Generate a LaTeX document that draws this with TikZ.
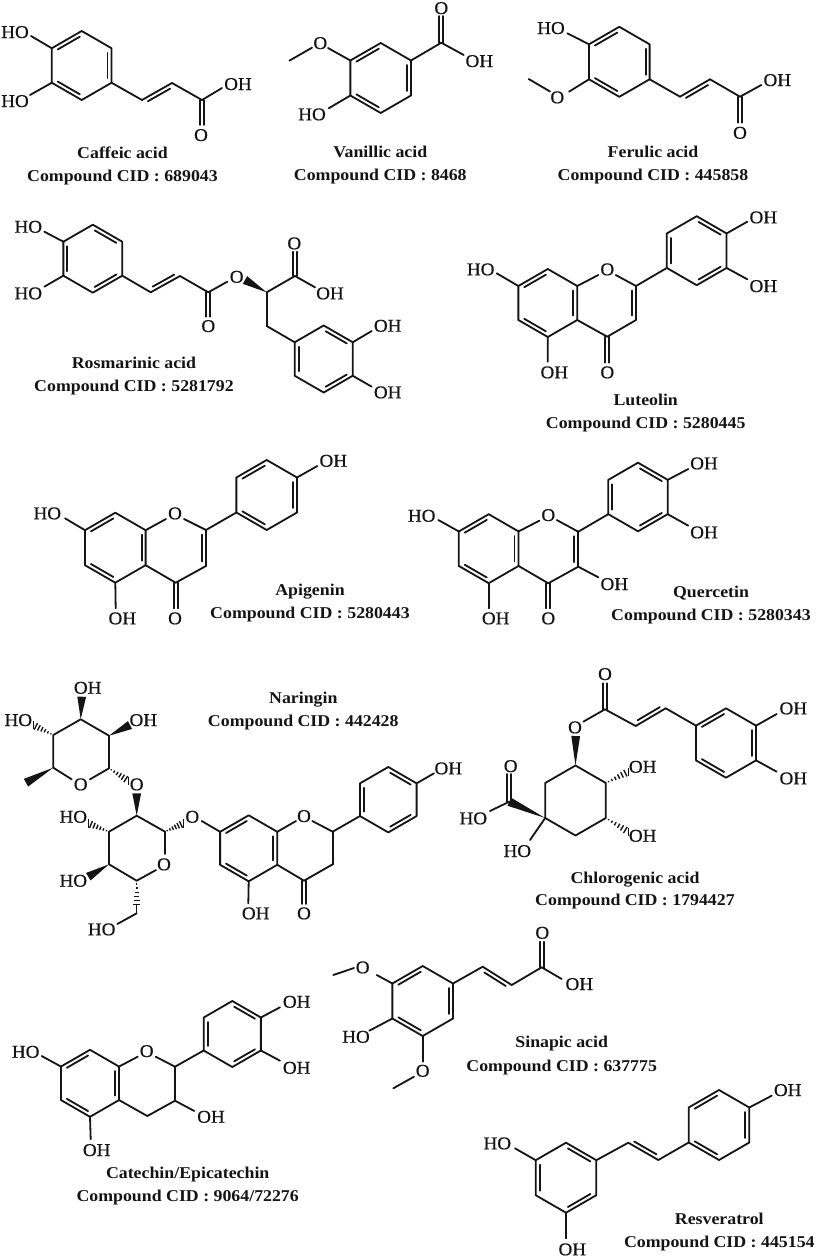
\documentclass[tikz,border=0pt]{standalone}
\usepackage{fontspec}
\setmainfont[FakeStretch=1.08]{Liberation Serif}
\newfontfamily\atomf[FakeStretch=1.06,FakeBold=0.5]{Liberation Serif}
\newfontfamily\capf[FakeStretch=1.08]{Liberation Serif Bold}
\usetikzlibrary{calc}
\tikzset{
  bond/.style={line width=1.8pt,line cap=round,line join=round,color=black!92},
  atomlabel/.style={inner sep=0pt,text height=12pt,text depth=0pt,font=\atomf\fontsize{18}{20}\selectfont,text=black!92},
  captext/.style={inner sep=0pt,text height=11.5pt,text depth=0pt,font=\capf\fontsize{16.5}{19}\selectfont,text=black!92}
}
\newcommand\pnt[3]{\coordinate (#1) at (#2,#3);}
\newcommand\lbl[4]{\node[atomlabel] (#1) at (#2,#3) {#4};}
\newcommand\bnd[2]{\draw[bond] (#1) -- (#2);}
\newcommand\dbnd[3]{\draw[bond,shorten <=4.5pt,shorten >=4.5pt] ($(#1)!#3!90:(#2)$) -- ($(#2)!#3!-90:(#1)$);}
\newcommand\vin[3]{\bnd{#1}{#2}\dbnd{#1}{#2}{#3}}
\newcommand\cdbnd[2]{\draw[bond] ($(#1)!2pt!90:(#2)$) -- ($(#2)!2pt!-90:(#1)$);\draw[bond] ($(#1)!-2pt!90:(#2)$) -- ($(#2)!-2pt!-90:(#1)$);}
\newcommand\wdg[2]{\fill[black!92] (#1) -- ($(#2)!4.4pt!90:(#1)$) -- ($(#2)!-4.4pt!90:(#1)$) -- cycle;}
\newcommand\hsh[2]{\foreach \tval/\hw in {0.12/0.6,0.27/1.2,0.42/1.8,0.57/2.4,0.72/3.0,0.87/3.6,1.0/4.2}{\draw[line width=1.4pt,black!92] ($(#1)!\tval!(#2)!\hw pt!90:(#2)$) -- ($(#1)!\tval!(#2)!-\hw pt!90:(#2)$);}}
% from, name, bond end x,y, label x,y, text
\newcommand\subst[7]{\coordinate (#2-e) at (#3,#4);\node[atomlabel] (#2) at (#5,#6) {#7};\draw[bond] (#1) -- (#2-e);}
\newcommand\hexa[4]{%
  \coordinate (#1-1) at ({#2},{#3-#4});
  \coordinate (#1-2) at ({#2+0.866*#4},{#3-0.5*#4});
  \coordinate (#1-3) at ({#2+0.866*#4},{#3+0.5*#4});
  \coordinate (#1-4) at ({#2},{#3+#4});
  \coordinate (#1-5) at ({#2-0.866*#4},{#3+0.5*#4});
  \coordinate (#1-6) at ({#2-0.866*#4},{#3-0.5*#4});
}
\newcommand\hexbonds[1]{\draw[bond] (#1-1)--(#1-2)--(#1-3)--(#1-4)--(#1-5)--(#1-6)--cycle;}
\newcommand\ringA[4]{\hexa{#1}{#2}{#3}{#4}\hexbonds{#1}\dbnd{#1-6}{#1-1}{-4pt}\dbnd{#1-2}{#1-3}{-4pt}\dbnd{#1-4}{#1-5}{-4pt}}
\newcommand\ringB[4]{\hexa{#1}{#2}{#3}{#4}\hexbonds{#1}\dbnd{#1-1}{#1-2}{-4pt}\dbnd{#1-3}{#1-4}{-4pt}\dbnd{#1-5}{#1-6}{-4pt}}
\newcommand\caplines[6]{\node[captext] (#1-name) at (#2,#3) {#4};\node[captext] (#1-cid) at (#2,#5) {#6};}
\begin{document}
\begin{tikzpicture}[x=1pt,y=-1pt]
\useasboundingbox (0,0) rectangle (816,1258);
\fill[white] (0,0) rectangle (816,1258);

% Caffeic acid
\ringA{ca}{81.7}{65.5}{34.5}
\subst{ca-6}{ca-ho1}{31}{36}{15}{32}{HO}
\subst{ca-5}{ca-ho2}{30}{95}{15}{101}{HO}
\pnt{ca-v1}{142}{100}\pnt{ca-v2}{172}{83}\pnt{ca-c}{202}{100}\pnt{ca-oe}{202}{125}
\bnd{ca-3}{ca-v1}\vin{ca-v1}{ca-v2}{-4pt}\bnd{ca-v2}{ca-c}
\subst{ca-c}{ca-oh}{222}{88}{238}{84}{OH}
\cdbnd{ca-c}{ca-oe}\lbl{ca-o}{201}{135}{O}
\caplines{ca}{122.5}{153}{Caffeic acid}{176}{Compound CID : 689043}

% Vanillic acid
\ringA{va}{380.7}{78}{35}
\subst{va-6}{va-o1}{328}{48}{320.3}{43}{O}
\pnt{va-ms}{312}{47.7}\pnt{va-me}{289.3}{60.7}\bnd{va-ms}{va-me}
\subst{va-5}{va-ho}{328.7}{108.3}{312}{114.3}{HO}
\pnt{va-c}{441.3}{42.7}\pnt{va-oe}{441.3}{16}\bnd{va-2}{va-c}
\cdbnd{va-c}{va-oe}\lbl{va-o2}{441.3}{8}{O}
\subst{va-c}{va-oh}{463.7}{55}{479.3}{61}{OH}
\caplines{va}{380.3}{151.7}{Vanillic acid}{174.3}{Compound CID : 8468}

% Ferulic acid
\ringA{fe}{619.3}{61.8}{35}
\subst{fe-6}{fe-ho}{567.3}{33.3}{551}{28}{HO}
\subst{fe-5}{fe-o1}{569}{91.7}{557.3}{97.3}{O}
\pnt{fe-ms}{550}{91.5}\pnt{fe-me}{528.7}{79}\bnd{fe-ms}{fe-me}
\pnt{fe-v1}{680}{96.7}\pnt{fe-v2}{710}{79.3}\pnt{fe-c}{740}{96.7}\pnt{fe-oe}{740}{122.7}
\bnd{fe-3}{fe-v1}\vin{fe-v1}{fe-v2}{-4pt}\bnd{fe-v2}{fe-c}
\subst{fe-c}{fe-oh}{761.3}{85}{777.3}{80}{OH}
\cdbnd{fe-c}{fe-oe}\lbl{fe-o2}{740}{132.7}{O}
\caplines{fe}{653}{151.7}{Ferulic acid}{174.3}{Compound CID : 445858}

% Rosmarinic acid
\ringB{ro}{92.8}{258.7}{34}
\subst{ro-6}{ro-ho1}{44.3}{231.7}{28.3}{226.7}{HO}
\subst{ro-5}{ro-ho2}{44.3}{286.7}{28.3}{293.3}{HO}
\pnt{ro-v1}{150.7}{292.3}\pnt{ro-v2}{180}{276}\pnt{ro-c}{208.3}{292.3}\pnt{ro-oe}{208.3}{316.7}
\bnd{ro-3}{ro-v1}\vin{ro-v1}{ro-v2}{4pt}\bnd{ro-v2}{ro-c}
\cdbnd{ro-c}{ro-oe}\lbl{ro-o1}{208.3}{326}{O}
\subst{ro-c}{ro-o2}{227.3}{281.7}{236.7}{276.7}{O}
\pnt{ro-cs}{266.7}{292.3}\pnt{ro-we}{245}{280}\wdg{ro-cs}{ro-we}
\pnt{ro-cc}{295}{276}\pnt{ro-oe2}{295}{251.7}\bnd{ro-cs}{ro-cc}
\cdbnd{ro-cc}{ro-oe2}\lbl{ro-o3}{294.3}{243.3}{O}
\subst{ro-cc}{ro-oh}{315}{287.3}{330}{293.3}{OH}
\pnt{ro-ch}{266.7}{326}\bnd{ro-cs}{ro-ch}
\ringB{rp}{323.7}{359}{33.5}
\bnd{ro-ch}{rp-6}
\subst{rp-2}{rp-oh1}{371.7}{331}{387.7}{325.7}{OH}
\subst{rp-3}{rp-oh2}{371.7}{386.7}{387.7}{392.3}{OH}
\caplines{ro}{134}{362.7}{Rosmarinic acid}{386}{Compound CID : 5281792}

% Luteolin
\ringA{lu}{547.8}{303}{34}
\pnt{lu-c2}{636}{286}\pnt{lu-c3}{636}{320}\pnt{lu-c4}{607.3}{336.7}\pnt{lu-oe}{607.3}{362.7}
\subst{lu-2}{lu-o}{598.3}{275}{607.3}{269.3}{O}
\pnt{lu-os}{615.7}{275}\bnd{lu-os}{lu-c2}
\vin{lu-c2}{lu-c3}{-4pt}\bnd{lu-c3}{lu-c4}\bnd{lu-c4}{lu-3}
\cdbnd{lu-c4}{lu-oe}\lbl{lu-o2}{607.3}{372.3}{O}
\subst{lu-4}{lu-oh5}{547.7}{361.7}{554.3}{372.3}{OH}
\subst{lu-6}{lu-ho7}{496.7}{273.3}{480.7}{269.3}{HO}
\ringB{lb}{696.7}{250.7}{34.5}
\bnd{lu-c2}{lb-5}
\subst{lb-2}{lb-oh1}{747.3}{221.7}{763.3}{217.3}{OH}
\subst{lb-3}{lb-oh2}{747.3}{279.3}{763.3}{286}{OH}
\caplines{lu}{645.7}{400}{Luteolin}{422.7}{Compound CID : 5280445}

% Apigenin
\ringA{ap}{115.3}{547.7}{35}
\pnt{ap-c2}{206}{530}\pnt{ap-c3}{206}{566}\pnt{ap-c4}{175.7}{582.7}\pnt{ap-oe}{175.7}{608.3}
\subst{ap-2}{ap-o}{166}{519}{175}{513.3}{O}
\pnt{ap-os}{184}{519}\bnd{ap-os}{ap-c2}
\vin{ap-c2}{ap-c3}{-4pt}\bnd{ap-c3}{ap-c4}\bnd{ap-c4}{ap-3}
\cdbnd{ap-c4}{ap-oe}\lbl{ap-o2}{175}{618.3}{O}
\subst{ap-4}{ap-oh5}{115.7}{608.3}{122.3}{618.3}{OH}
\subst{ap-6}{ap-ho7}{65}{518.3}{47.3}{513.3}{HO}
\ringA{ab}{266.7}{495}{35}
\bnd{ap-c2}{ab-5}
\subst{ab-2}{ab-oh}{317.3}{466}{333.3}{460.7}{OH}
\caplines{ap}{310}{590}{Apigenin}{612.7}{Compound CID : 5280443}

% Quercetin
\ringA{qu}{488.7}{548.7}{34.5}
\pnt{qu-c2}{578.3}{531.7}\pnt{qu-c3}{578.3}{566.7}\pnt{qu-c4}{548.3}{583.3}\pnt{qu-oe}{548.3}{608.3}
\subst{qu-2}{qu-o}{539.3}{520.7}{548.3}{515}{O}
\pnt{qu-os}{556.7}{520}\bnd{qu-os}{qu-c2}
\vin{qu-c2}{qu-c3}{-4pt}\bnd{qu-c3}{qu-c4}\bnd{qu-c4}{qu-3}
\cdbnd{qu-c4}{qu-oe}\lbl{qu-o2}{548.3}{618.3}{O}
\subst{qu-4}{qu-oh5}{488.7}{608.3}{495.7}{618.3}{OH}
\subst{qu-6}{qu-ho7}{438.3}{520}{421.7}{515.7}{HO}
\subst{qu-c3}{qu-oh3}{598.3}{577.3}{614.3}{584}{OH}
\ringB{qb}{638}{497}{34.3}
\bnd{qu-c2}{qb-5}
\subst{qb-2}{qb-oh1}{688.3}{469}{704}{463.3}{OH}
\subst{qb-3}{qb-oh2}{688.3}{525.7}{704}{532.3}{OH}
\caplines{qu}{711}{591.7}{Quercetin}{614.3}{Compound CID : 5280343}

% Naringin: rhamnose ring
\pnt{rh-1}{80.7}{719.3}\pnt{rh-2}{109}{735.7}\pnt{rh-3}{109}{768.3}\pnt{rh-5}{53.3}{767.7}\pnt{rh-6}{53.3}{735}
\draw[bond] (rh-5)--(rh-6)--(rh-1)--(rh-2)--(rh-3);
\lbl{rh-o}{80.7}{784.3}{O}
\pnt{rh-oa}{71.7}{779.3}\pnt{rh-ob}{90}{779.3}\bnd{rh-5}{rh-oa}\bnd{rh-3}{rh-ob}
\pnt{rh-w1}{81.7}{696.7}\wdg{rh-1}{rh-w1}\lbl{rh-oh1}{87.7}{687.7}{OH}
\pnt{rh-w2}{130}{725}\wdg{rh-2}{rh-w2}\lbl{rh-oh2}{143.3}{720}{OH}
\pnt{rh-h6}{33.3}{725}\hsh{rh-6}{rh-h6}\lbl{rh-ho}{18.3}{720}{HO}
\pnt{rh-me}{26}{782.7}\wdg{rh-5}{rh-me}
\pnt{rh-h3}{128.3}{780.7}\hsh{rh-3}{rh-h3}\lbl{gl-o1}{136.7}{784.3}{O}
% Naringin: glucose ring
\pnt{gl-1}{136.7}{815.7}\pnt{gl-2}{165}{831.7}\pnt{gl-4}{136.7}{880.7}\pnt{gl-5}{109}{864.3}\pnt{gl-6}{109}{831.7}
\draw[bond] (gl-2)--(gl-1)--(gl-6)--(gl-5)--(gl-4);
\lbl{gl-o}{164}{864.3}{O}
\pnt{gl-oa}{165}{854}\pnt{gl-ob}{156}{870}\bnd{gl-2}{gl-oa}\bnd{gl-4}{gl-ob}
\pnt{gl-w1}{136.7}{793.3}\wdg{gl-1}{gl-w1}
\pnt{gl-h6}{88.3}{823.3}\hsh{gl-6}{gl-h6}\lbl{gl-ho1}{73.3}{816.7}{HO}
\pnt{gl-w5}{88.3}{876.7}\wdg{gl-5}{gl-w5}\lbl{gl-ho2}{73.3}{880.7}{HO}
\pnt{gl-h4}{136.7}{908.3}\hsh{gl-4}{gl-h4}
\pnt{gl-cs}{136.7}{913.3}\pnt{gl-ce}{117.3}{924}\bnd{gl-cs}{gl-ce}\lbl{gl-ho3}{101.7}{929.3}{HO}
\pnt{gl-h2}{183.3}{823.3}\hsh{gl-2}{gl-h2}\lbl{gl-o2}{192.3}{816.7}{O}
\pnt{gl-os}{201.7}{821}
% Naringin: flavanone
\ringA{na}{248.7}{848.3}{33}
\bnd{gl-os}{na-6}
\pnt{na-c2}{332.7}{831.7}\pnt{na-c3}{332.7}{864.3}\pnt{na-c4}{304}{880.7}\pnt{na-oe}{304}{904}
\subst{na-2}{na-o}{296}{821}{304}{816}{O}
\pnt{na-os}{312.3}{821}\bnd{na-os}{na-c2}
\bnd{na-c2}{na-c3}\bnd{na-c3}{na-c4}\bnd{na-c4}{na-3}
\cdbnd{na-c4}{na-oe}\lbl{na-o2}{304}{913.3}{O}
\subst{na-4}{na-oh5}{248.3}{903.3}{255.7}{913.3}{OH}
\ringB{nb}{388.3}{799.7}{32.7}
\bnd{na-c2}{nb-5}
\subst{nb-2}{nb-oh}{434}{773.3}{448.3}{768.3}{OH}
\caplines{na}{303.3}{697.7}{Naringin}{721}{Compound CID : 442428}

% Chlorogenic acid
\hexa{cq}{575.5}{800.5}{35}\hexbonds{cq}
\pnt{cq-w}{575.7}{736}\wdg{cq-1}{cq-w}\lbl{cq-o1}{575}{727.3}{O}
\pnt{cq-os}{583.3}{721.7}\pnt{cq-c}{605}{709.3}\bnd{cq-os}{cq-c}
\pnt{cq-oe}{605}{683.3}\cdbnd{cq-c}{cq-oe}\lbl{cq-o2}{605}{674}{O}
\pnt{cq-v1}{635.7}{726}\pnt{cq-v2}{665.7}{708.3}
\bnd{cq-c}{cq-v1}\vin{cq-v1}{cq-v2}{4pt}
\ringA{cr}{726}{743}{34.7}
\bnd{cq-v2}{cr-6}
\subst{cr-2}{cr-oh1}{776.7}{714}{793.3}{708.3}{OH}
\subst{cr-3}{cr-oh2}{776.7}{771.7}{793.3}{778.3}{OH}
\pnt{cq-h2}{628.3}{771.7}\hsh{cq-2}{cq-h2}\lbl{cq-oh1}{642.7}{766.7}{OH}
\pnt{cq-h3}{628.3}{831.7}\hsh{cq-3}{cq-h3}\lbl{cq-oh2}{642.7}{835.7}{OH}
\pnt{cq-cc}{509.3}{801.7}\wdg{cq-5}{cq-cc}
\pnt{cq-oe2}{509.3}{774}\cdbnd{cq-cc}{cq-oe2}\lbl{cq-o3}{510.7}{766}{O}
\subst{cq-cc}{cq-ho1}{490}{811}{473.3}{818.3}{HO}
\subst{cq-5}{cq-ho2}{530}{840}{517.3}{851}{HO}
\caplines{cq}{635}{877.3}{Chlorogenic acid}{900}{Compound CID : 1794427}

% Catechin / Epicatechin
\ringA{ct}{90}{1083.3}{33.5}
\pnt{ct-c2}{175}{1066.7}\pnt{ct-c3}{175}{1100.7}\pnt{ct-c4}{147.3}{1116}
\subst{ct-2}{ct-o}{137.7}{1056.7}{146.7}{1051}{O}
\pnt{ct-os}{155.7}{1056.7}\bnd{ct-os}{ct-c2}
\bnd{ct-c2}{ct-c3}\bnd{ct-c3}{ct-c4}\bnd{ct-c4}{ct-3}
\subst{ct-c3}{ct-oh3}{194.3}{1111}{211}{1116.7}{OH}
\subst{ct-4}{ct-oh5}{90.7}{1139.3}{96.7}{1150}{OH}
\subst{ct-6}{ct-ho7}{41.7}{1056}{25.7}{1051.7}{HO}
\ringB{cb}{232.3}{1034}{33}
\bnd{ct-c2}{cb-5}
\subst{cb-2}{cb-oh1}{280}{1007.3}{296.7}{1001.7}{OH}
\subst{cb-3}{cb-oh2}{280}{1060.7}{296.7}{1067.7}{OH}
\caplines{ct}{187.7}{1172.7}{Catechin/Epicatechin}{1196}{Compound CID : 9064/72276}

% Sinapic acid
\ringA{si}{422.7}{1001}{35}
\subst{si-6}{si-o1}{376.7}{975}{362.7}{967.3}{O}
\pnt{si-ms}{354}{968}\pnt{si-me}{333.3}{975}\bnd{si-ms}{si-me}
\subst{si-5}{si-ho}{369.3}{1030.7}{356}{1036.7}{HO}
\subst{si-4}{si-o2}{422.7}{1061.7}{422.7}{1070.7}{O}
\pnt{si-ns}{414}{1076.7}\pnt{si-ne}{393.3}{1088.3}\bnd{si-ns}{si-ne}
\pnt{si-v1}{482.7}{966.7}\pnt{si-v2}{511.7}{985}\pnt{si-c}{541.7}{967.3}\pnt{si-oe}{541.7}{941.7}
\bnd{si-2}{si-v1}\vin{si-v1}{si-v2}{-4pt}\bnd{si-v2}{si-c}
\cdbnd{si-c}{si-oe}\lbl{si-o3}{542.3}{932.7}{O}
\subst{si-c}{si-oh}{561.7}{979}{579.3}{984}{OH}
\caplines{si}{561.7}{1041.7}{Sinapic acid}{1065.3}{Compound CID : 637775}

% Resveratrol
\ringB{re}{566}{1177.7}{35}
\subst{re-6}{re-ho}{515}{1148.3}{497.3}{1143.3}{HO}
\subst{re-4}{re-oh}{566}{1238.3}{572.3}{1249.3}{OH}
\pnt{re-v1}{628.3}{1142.7}\pnt{re-v2}{658.3}{1160}
\bnd{re-2}{re-v1}\vin{re-v1}{re-v2}{4pt}
\ringA{rb}{719}{1125}{35}
\bnd{re-v2}{rb-5}
\subst{rb-2}{rb-oh}{771.7}{1095.7}{787.7}{1090}{OH}
\caplines{re}{719.3}{1218.3}{Resveratrol}{1241.7}{Compound CID : 445154}
\end{tikzpicture}
\end{document}
